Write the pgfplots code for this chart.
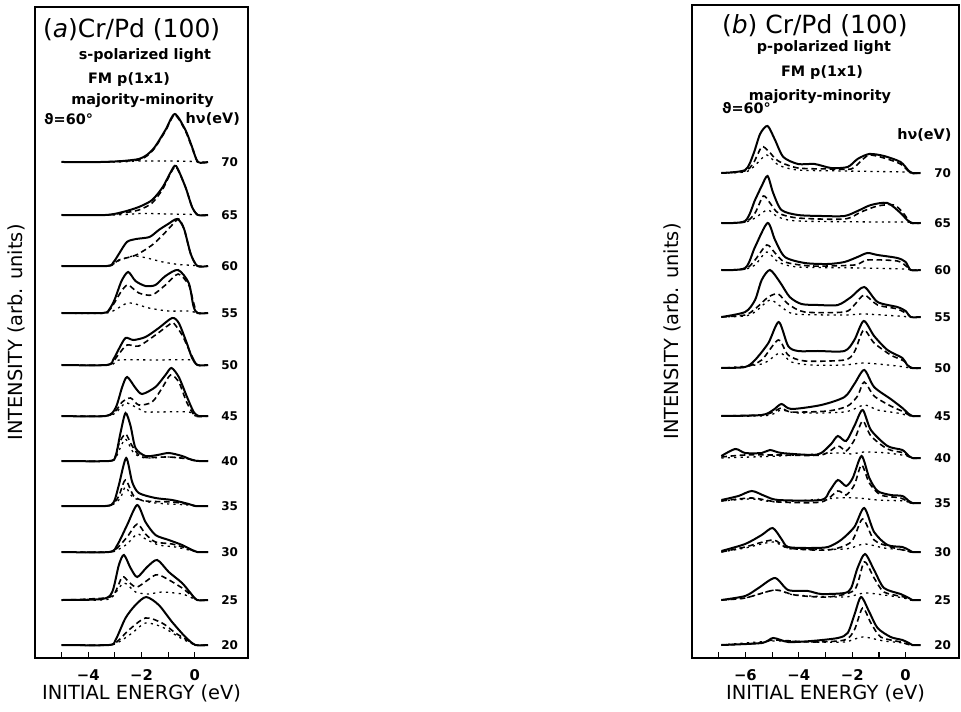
\documentclass[border=0pt]{standalone}
\usepackage{fontspec}
\setmainfont{DejaVu Sans}
\usepackage{pgfplots}
\pgfplotsset{compat=1.18}

\tikzset{
  sub/.style={font=\fontsize{7.2}{8}\selectfont\bfseries},
  hv/.style={font=\fontsize{6}{7}\selectfont\bfseries, anchor=center},
}
\pgfplotsset{
  sol/.style={black, line width=1pt, smooth, tension=0.45},
  das/.style={black, line width=0.8pt, dash pattern=on 2.8pt off 1.8pt, smooth, tension=0.45},
  dot/.style={black, line width=0.65pt, dash pattern=on 1.1pt off 2.1pt, smooth, tension=0.45},
  off/.style={y filter/.expression={y+#1}},
  panel/.style={
    scale only axis, anchor=south west, clip=false,
    ymin=0, ytick=\empty,
    axis line style={line width=0.75pt},
    tick align=inside, xtick pos=bottom, major tick length=3pt,
    tick style={black, line width=0.6pt},
    xticklabel style={font=\fontsize{7.4}{8}\selectfont\bfseries, anchor=center, yshift=-8.5pt},
    label style={font=\fontsize{9.7}{11}\selectfont},
    xlabel={INITIAL ENERGY (eV)},
    ylabel={INTENSITY (arb. units)},
    xlabel style={at={(axis description cs:0.5,0)}, anchor=center, yshift=-17.5pt},
  },
}

\begin{document}
\begin{tikzpicture}
\useasboundingbox (0,0) rectangle (480.5pt,355.5pt);

% ---------------- (a) s-polarized ----------------
\begin{axis}[panel, at={(17.5pt,26.5pt)}, width=106.5pt, height=325.5pt,
  xmin=-6, xmax=2, ymax=651,
  xtick={-5,-4,-3,-2,-1,0}, xticklabels={,−4,,−2,,0},
  ylabel style={at={(axis description cs:-0.014,0.5)}, anchor=south},
]
\node[anchor=west, font=\fontsize{12.5}{14}\selectfont] at (rel axis cs:0.005,0.965) {(\textit{a})Cr/Pd (100)};
\node[sub] at (rel axis cs:0.516,0.926) {s-polarized light};
\node[sub, anchor=west] at (rel axis cs:0.216,0.889) {FM p(1x1)};
\node[sub] at (rel axis cs:0.505,0.857) {majority-minority};
\node[sub, anchor=west] at (rel axis cs:0.01,0.828) {ϑ=60°};
\node[sub, anchor=east] at (rel axis cs:0.995,0.828) {hν(eV)};
\node[hv] at (axis cs:1.31,496) {70};
\node[hv] at (axis cs:1.31,443) {65};
\node[hv] at (axis cs:1.31,392) {60};
\node[hv] at (axis cs:1.31,345) {55};
\node[hv] at (axis cs:1.31,293) {50};
\node[hv] at (axis cs:1.31,242) {45};
\node[hv] at (axis cs:1.31,197) {40};
\node[hv] at (axis cs:1.31,152) {35};
\node[hv] at (axis cs:1.31,106) {30};
\node[hv] at (axis cs:1.31,58) {25};
\node[hv] at (axis cs:1.31,13) {20};

% 70 eV
\addplot[sol,off=496] coordinates {(-5,0)(-3.5,0)(-2.7,1)(-2.1,3)(-1.8,7)(-1.5,15)(-1.1,32)(-0.75,48)(-0.35,32)(-0.1,15)(0.12,0)(0.5,0)};
\addplot[das,off=496] coordinates {(-5,0)(-3.5,0)(-2.7,1)(-2.1,2)(-1.8,6)(-1.5,14)(-1.1,31)(-0.75,47)(-0.35,31)(-0.1,14)(0.12,0)(0.5,0)};
\addplot[dot,off=496] coordinates {(-5,0)(-3,0)(-2,1)(-1,1)(0,0.5)(0.12,0)(0.5,0)};
% 65 eV
\addplot[sol,off=443] coordinates {(-5,0)(-3.35,0)(-2.7,3)(-2.1,8)(-1.6,15)(-1.2,28)(-0.9,43)(-0.7,49)(-0.35,28)(-0.1,8)(0.12,0)(0.5,0)};
\addplot[das,off=443] coordinates {(-5,0)(-3.35,0)(-2.7,2)(-2.1,5)(-1.6,12)(-1.2,26)(-0.9,42)(-0.7,48)(-0.35,28)(-0.1,8)(0.12,0)(0.5,0)};
\addplot[dot,off=443] coordinates {(-5,0)(-3,0)(-2,1.5)(-1,1)(0,0.5)(0.12,0)(0.5,0)};
% 60 eV
\addplot[sol,off=392] coordinates {(-5,0)(-3.3,0)(-3.05,4)(-2.85,12)(-2.55,24)(-2.2,27)(-1.7,29)(-1.35,36)(-1.0,42)(-0.65,47)(-0.4,37)(-0.15,12)(0.1,0)(0.5,0)};
\addplot[das,off=392] coordinates {(-5,0)(-3.3,0)(-3.05,2)(-2.85,6)(-2.2,11)(-1.6,21)(-1.2,31)(-0.85,41)(-0.6,47)(-0.4,37)(-0.15,12)(0.1,0)(0.5,0)};
\addplot[dot,off=392] coordinates {(-5,0)(-3.3,0)(-2.8,6)(-2.3,10)(-1.8,8)(-1.2,4)(-0.6,1.5)(0,0.5)(0.1,0)(0.5,0)};
% 55 eV
\addplot[sol,off=345] coordinates {(-5,0)(-3.45,0)(-3.2,4)(-3.0,14)(-2.75,32)(-2.5,41)(-2.225,32)(-1.85,27)(-1.475,28)(-1.1,37)(-0.625,43)(-0.225,30)(-0.05,7)(0.1,0)(0.5,0)};
\addplot[das,off=345] coordinates {(-5,0)(-3.45,0)(-3.2,3)(-3.0,11)(-2.725,23)(-2.5,28)(-2.1,20)(-1.6,18)(-1.1,28)(-0.625,39)(-0.225,28)(-0.04,10)(0.1,0)(0.5,0)};
\addplot[dot,off=345] coordinates {(-5,0)(-3.3,0)(-2.5,10)(-1.725,5)(-1,2)(-0.2,2)(0.1,0)(0.5,0)};
% 50 eV
\addplot[sol,off=293] coordinates {(-5,0)(-3.3,0)(-3.05,6)(-2.85,16)(-2.6,27)(-2.3,25)(-1.85,28)(-1.35,37)(-0.85,47)(-0.6,42)(-0.3,22)(-0.1,7)(0.1,0)(0.5,0)};
\addplot[das,off=293] coordinates {(-5,0)(-3.3,0)(-3.05,4)(-2.85,11)(-2.54,20)(-2.1,19)(-1.475,30)(-0.975,40)(-0.8,42)(-0.475,30)(-0.16,12)(0.1,0)(0.5,0)};
\addplot[dot,off=293] coordinates {(-5,0)(-3.2,0)(-2.85,5)(-1.5,5)(-0.1,5)(0.05,0)(0.5,0)};
% 45 eV
\addplot[sol,off=242] coordinates {(-5,0)(-3.35,0)(-2.975,8)(-2.725,29)(-2.54,39)(-2.225,28)(-1.975,22)(-1.475,29)(-1.1,41)(-0.875,48)(-0.6,39)(-0.29,19)(-0.04,4)(0.15,0)(0.5,0)};
\addplot[das,off=242] coordinates {(-5,0)(-3.35,0)(-2.975,5)(-2.725,14)(-2.41,18)(-2.1,11)(-1.6,14)(-1.225,28)(-0.91,41)(-0.6,34)(-0.29,13)(0.025,0)(0.5,0)};
\addplot[dot,off=242] coordinates {(-5,0)(-3.35,0)(-2.975,3)(-2.6,13)(-2.225,9)(-1.85,4)(-1.475,4)(-0.225,4)(0.025,0)(0.5,0)};
% 40 eV
\addplot[sol,off=197] coordinates {(-5,0)(-3.225,0)(-2.975,5)(-2.79,28)(-2.6,48)(-2.41,35)(-2.225,13)(-1.85,5)(-1.4,6)(-0.975,8)(-0.475,5)(-0.1,1)(0.15,0)(0.5,0)};
\addplot[das,off=197] coordinates {(-5,0)(-3.225,0)(-2.975,4)(-2.85,17)(-2.6,27)(-2.35,15)(-1.975,4)(-0.975,4)(-0.225,2)(0.15,0)(0.5,0)};
\addplot[dot,off=197] coordinates {(-5,0)(-3.225,0)(-2.975,3)(-2.85,10)(-2.6,22)(-2.29,8)(-1.85,3)(-0.975,4)(-0.225,2)(0.15,0)(0.5,0)};
% 35 eV
\addplot[sol,off=152] coordinates {(-5,0)(-3.35,0)(-3.04,4)(-2.85,21)(-2.575,48)(-2.35,24)(-2.1,13)(-1.475,8)(-0.85,6)(-0.225,2)(0.025,0)(0.5,0)};
\addplot[das,off=152] coordinates {(-5,0)(-3.35,0)(-3.04,3)(-2.85,10)(-2.6,26)(-2.29,10)(-1.85,5)(-0.85,4)(-0.1,1)(0.025,0)(0.5,0)};
\addplot[dot,off=152] coordinates {(-5,0)(-3.35,0)(-3.04,2)(-2.79,8)(-2.6,19)(-2.29,8)(-1.475,3)(-0.225,1)(0.025,0)(0.5,0)};
% 30 eV
\addplot[sol,off=106] coordinates {(-5,0)(-3.225,0)(-2.91,7)(-2.54,27)(-2.16,47)(-1.85,30)(-1.475,17)(-0.975,12)(-0.475,7)(-0.1,2)(0.09,0)(0.5,0)};
\addplot[das,off=106] coordinates {(-5,0)(-3.225,0)(-2.91,4)(-2.54,15)(-2.16,28)(-1.85,18)(-1.475,10)(-0.85,8)(-0.225,3)(0.09,0)(0.5,0)};
\addplot[dot,off=106] coordinates {(-5,0)(-3.225,0)(-2.91,2)(-2.54,8)(-2.16,18)(-1.85,13)(-1.35,7)(-0.725,5)(-0.225,2)(0.09,0)(0.5,0)};
% 25 eV
\addplot[sol,off=58] coordinates {(-5,0)(-3.475,1)(-3.1,8)(-2.85,35)(-2.66,45)(-2.41,32)(-2.16,23)(-1.79,33)(-1.41,40)(-0.975,28)(-0.475,17)(-0.16,7)(0.09,0)(0.5,0)};
\addplot[das,off=58] coordinates {(-5,0)(-3.98,1)(-3.1,4)(-2.725,23)(-2.475,18)(-2.16,13)(-1.475,25)(-1.1,22)(-0.475,12)(-0.1,4)(0.09,0)(0.5,0)};
\addplot[dot,off=58] coordinates {(-5,0)(-3.475,0)(-3.1,3)(-2.66,17)(-2.225,8)(-1.725,6)(-1.225,8)(-0.475,6)(-0.1,2)(0.09,0)(0.5,0)};
% 20 eV
\addplot[sol,off=13] coordinates {(-5,0)(-3.225,0)(-2.975,5)(-2.6,27)(-2.225,40)(-1.825,48)(-1.35,40)(-0.85,23)(-0.35,8)(0.025,0)(0.5,0)};
\addplot[das,off=13] coordinates {(-5,0)(-3.225,0)(-2.85,5)(-2.475,15)(-1.85,27)(-1.225,22)(-0.725,12)(-0.225,4)(0.025,0)(0.5,0)};
\addplot[dot,off=13] coordinates {(-5,0)(-3.225,0)(-2.85,3)(-2.35,12)(-1.85,22)(-1.225,18)(-0.6,8)(-0.16,2)(0.025,0)(0.5,0)};
\end{axis}

% ---------------- (b) p-polarized ----------------
\begin{axis}[panel, at={(346pt,26.5pt)}, width=133.5pt, height=326.5pt,
  xmin=-8, xmax=2, ymax=653,
  xtick={-7,-6,-5,-4,-3,-2,-1,0}, xticklabels={,−6,,−4,,−2,,0},
  ylabel style={at={(axis description cs:-0.015,0.5)}, anchor=south},
]
\node[anchor=west, font=\fontsize{12.5}{14}\selectfont] at (rel axis cs:0.086,0.969) {(\textit{b}) Cr/Pd (100)};
\node[sub] at (rel axis cs:0.494,0.934) {p-polarized light};
\node[sub] at (rel axis cs:0.487,0.896) {FM p(1x1)};
\node[sub] at (rel axis cs:0.479,0.859) {majority-minority};
\node[sub, anchor=west] at (rel axis cs:0.086,0.842) {ϑ=60°};
\node[sub, anchor=east] at (rel axis cs:0.998,0.801) {hν(eV)};
\node[hv] at (axis cs:1.39,485) {70};
\node[hv] at (axis cs:1.39,435) {65};
\node[hv] at (axis cs:1.39,388) {60};
\node[hv] at (axis cs:1.39,341) {55};
\node[hv] at (axis cs:1.39,290) {50};
\node[hv] at (axis cs:1.39,242) {45};
\node[hv] at (axis cs:1.39,200) {40};
\node[hv] at (axis cs:1.39,155) {35};
\node[hv] at (axis cs:1.39,106) {30};
\node[hv] at (axis cs:1.39,58) {25};
\node[hv] at (axis cs:1.39,13) {20};

% 70 eV
\addplot[sol,off=485] coordinates {(-6.9,0)(-6.01,3)(-5.7,19)(-5.45,39)(-5.17,47)(-4.89,33)(-4.58,16)(-4.03,9)(-3.41,9)(-2.79,5)(-2.17,6)(-1.8,14)(-1.36,19)(-0.81,17)(-0.19,11)(0.12,2)(0.25,0)(0.56,0)};
\addplot[das,off=485] coordinates {(-6.9,0)(-6.01,2)(-5.7,10)(-5.39,26)(-5.14,22)(-4.77,12)(-4.03,5)(-2.79,4)(-2.04,4)(-1.67,12)(-1.36,18)(-0.81,15)(-0.19,9)(0.19,0)(0.56,0)};
\addplot[dot,off=485] coordinates {(-6.9,0)(-6.01,1)(-5.7,6)(-5.2,18)(-4.77,8)(-4.03,3)(-2.29,2)(-0.06,1)(0.19,0)(0.56,0)};
% 65 eV
\addplot[sol,off=435] coordinates {(-6.9,0)(-6.01,2)(-5.64,23)(-5.39,37)(-5.17,47)(-4.96,30)(-4.65,13)(-4.03,8)(-3.16,7)(-2.29,7)(-1.8,12)(-1.3,18)(-0.68,20)(-0.19,10)(0.06,3)(0.25,0)(0.56,0)};
\addplot[das,off=435] coordinates {(-6.9,0)(-6.01,1)(-5.64,10)(-5.33,27)(-5.08,20)(-4.77,10)(-4.03,5)(-2.29,4)(-1.67,11)(-1.05,17)(-0.43,18)(-0.06,9)(0.19,0)(0.56,0)};
\addplot[dot,off=435] coordinates {(-6.9,0)(-6.01,1)(-5.64,5)(-5.17,13)(-4.77,6)(-4.03,2)(-1.05,1)(0.06,1)(0.19,0)(0.56,0)};
% 60 eV
\addplot[sol,off=388] coordinates {(-6.9,0)(-6.01,2)(-5.64,23)(-5.17,47)(-4.89,30)(-4.52,13)(-3.78,7)(-2.91,6)(-2.29,8)(-1.8,13)(-1.43,17)(-1.05,15)(-0.31,12)(0,8)(0.19,0)(0.56,0)};
\addplot[das,off=388] coordinates {(-6.9,0)(-6.01,1)(-5.64,10)(-5.2,25)(-4.89,17)(-4.52,8)(-3.53,4)(-1.92,5)(-1.43,10)(-0.31,9)(0.06,3)(0.19,0)(0.56,0)};
\addplot[dot,off=388] coordinates {(-6.9,0)(-6.01,1)(-5.64,5)(-5.2,18)(-4.77,8)(-4.03,3)(-1.67,2)(-0.06,1)(0.19,0)(0.56,0)};
% 55 eV
\addplot[sol,off=341] coordinates {(-6.9,0)(-6.01,5)(-5.64,17)(-5.39,37)(-5.08,47)(-4.71,35)(-4.34,20)(-3.9,13)(-3.28,12)(-2.54,12)(-2.04,20)(-1.55,30)(-1.05,15)(-0.31,10)(0,6)(0.19,0)(0.56,0)};
\addplot[das,off=341] coordinates {(-6.9,0)(-6.01,2)(-5.64,8)(-5.14,20)(-4.77,23)(-4.4,13)(-3.78,5)(-2.29,5)(-1.92,12)(-1.55,22)(-1.05,12)(-0.31,8)(0.12,2)(0.19,0)(0.56,0)};
\addplot[dot,off=341] coordinates {(-6.9,0)(-6.01,1)(-5.64,5)(-5.08,17)(-4.65,10)(-4.15,3)(-2.29,2)(-1.55,3)(-0.31,1)(0.19,0)(0.56,0)};
% 50 eV
\addplot[sol,off=290] coordinates {(-6.9,0)(-6.01,1)(-5.64,8)(-5.14,25)(-4.75,46)(-4.4,22)(-4.03,17)(-3.28,17)(-2.29,17)(-1.92,28)(-1.57,47)(-1.18,32)(-0.68,18)(-0.12,10)(0.06,3)(0.25,0)(0.56,0)};
\addplot[das,off=290] coordinates {(-6.9,0)(-6.01,1)(-5.39,8)(-4.77,28)(-4.4,13)(-3.78,7)(-2.29,8)(-1.92,16)(-1.57,38)(-1.18,25)(-0.56,13)(-0.06,7)(0.19,0)(0.56,0)};
\addplot[dot,off=290] coordinates {(-6.9,0)(-5.39,4)(-4.71,15)(-4.28,6)(-3.53,3)(-2.29,3)(-1.55,5)(-0.31,2)(0.19,0)(0.56,0)};
% 45 eV
\addplot[sol,off=242] coordinates {(-6.9,0)(-5.39,1)(-4.96,6)(-4.65,12)(-4.28,7)(-3.16,11)(-2.29,19)(-1.92,32)(-1.55,46)(-1.18,29)(-0.56,17)(-0.12,8)(0.12,2)(0.25,0)(0.56,0)};
\addplot[das,off=242] coordinates {(-6.9,0)(-5.39,1)(-4.96,4)(-4.65,8)(-4.28,4)(-2.91,5)(-2.17,10)(-1.8,20)(-1.55,34)(-1.18,20)(-0.56,10)(-0.06,4)(0.19,0)(0.56,0)};
\addplot[dot,off=242] coordinates {(-6.9,0)(-5.39,0)(-4.96,2)(-4.65,6)(-4.03,3)(-2.29,4)(-1.55,11)(-1.05,6)(-0.31,3)(0.19,0)(0.56,0)};
% 40 eV
\addplot[sol,off=200] coordinates {(-6.9,2)(-6.38,9)(-6.01,5)(-5.39,5)(-5.08,8)(-4.65,5)(-3.53,3)(-3.16,5)(-2.79,14)(-2.54,22)(-2.23,17)(-1.92,32)(-1.61,48)(-1.3,28)(-0.68,12)(-0.12,8)(0.12,2)(0.25,0)(0.56,0)};
\addplot[das,off=200] coordinates {(-6.9,1)(-6.01,3)(-4.77,3)(-3.16,3)(-2.54,12)(-2.23,7)(-1.92,18)(-1.61,37)(-1.3,22)(-0.68,9)(-0.06,5)(0.19,0)(0.56,0)};
\addplot[dot,off=200] coordinates {(-6.9,0)(-4.77,2)(-2.54,5)(-2.04,4)(-1.55,6)(-0.68,5)(0.06,2)(0.19,0)(0.56,0)};
% 35 eV
\addplot[sol,off=155] coordinates {(-6.9,3)(-6.26,7)(-5.76,12)(-5.27,7)(-4.77,3)(-3.16,3)(-2.85,12)(-2.54,23)(-2.23,17)(-1.98,25)(-1.65,47)(-1.36,25)(-1.05,12)(-0.56,8)(-0.12,7)(0.12,2)(0.25,0)(0.56,0)};
\addplot[das,off=155] coordinates {(-6.9,2)(-5.76,5)(-4.77,1)(-3.16,1)(-2.54,12)(-2.23,8)(-1.92,18)(-1.65,38)(-1.36,20)(-0.93,8)(-0.19,5)(0.19,0)(0.56,0)};
\addplot[dot,off=155] coordinates {(-6.9,2)(-5.76,4)(-4.77,1)(-2.54,5)(-1.8,5)(-1.05,3)(-0.06,2)(0.19,0)(0.56,0)};
% 30 eV
\addplot[sol,off=106] coordinates {(-6.9,1)(-6.01,8)(-5.39,17)(-4.98,24)(-4.65,13)(-4.4,5)(-3.53,4)(-2.91,5)(-2.42,12)(-1.92,25)(-1.55,44)(-1.18,20)(-0.68,7)(-0.12,5)(0.12,2)(0.25,0)(0.56,0)};
\addplot[das,off=106] coordinates {(-6.9,0)(-6.01,5)(-4.96,12)(-4.4,4)(-2.91,2)(-2.04,10)(-1.61,33)(-1.18,12)(-0.56,5)(0.06,1)(0.19,0)(0.56,0)};
\addplot[dot,off=106] coordinates {(-6.9,0)(-6.01,4)(-4.96,10)(-4.28,3)(-2.29,3)(-1.55,8)(-0.81,4)(-0.06,2)(0.19,0)(0.56,0)};
% 25 eV
\addplot[sol,off=58] coordinates {(-6.9,0)(-6.01,4)(-5.51,12)(-4.89,22)(-4.4,10)(-3.66,9)(-3.16,6)(-2.29,7)(-2.04,12)(-1.8,32)(-1.52,46)(-1.18,30)(-0.81,12)(-0.19,6)(0.12,2)(0.25,0)(0.56,0)};
\addplot[das,off=58] coordinates {(-6.9,0)(-6.01,2)(-4.89,10)(-4.15,5)(-2.91,3)(-1.92,10)(-1.55,38)(-1.18,22)(-0.81,8)(-0.06,3)(0.19,0)(0.56,0)};
\addplot[dot,off=58] coordinates {(-6.9,0)(-6.01,2)(-4.89,10)(-4.15,5)(-2.29,3)(-1.55,7)(-0.81,5)(-0.06,2)(0.19,0)(0.56,0)};
% 20 eV
\addplot[sol,off=13] coordinates {(-6.9,0)(-5.39,2)(-4.96,7)(-4.4,3)(-3.53,4)(-2.54,7)(-2.17,12)(-1.92,30)(-1.67,48)(-1.36,33)(-1.05,17)(-0.56,8)(-0.12,5)(0.12,2)(0.25,0)(0.56,0)};
\addplot[das,off=13] coordinates {(-6.9,0)(-5.39,2)(-4.96,5)(-3.53,3)(-2.29,5)(-1.92,15)(-1.61,37)(-1.3,22)(-0.93,8)(-0.19,3)(0.19,0)(0.56,0)};
\addplot[dot,off=13] coordinates {(-6.9,0)(-4.96,4)(-3.53,3)(-2.29,3)(-1.61,8)(-0.81,4)(-0.06,2)(0.19,0)(0.56,0)};
\end{axis}
\end{tikzpicture}
\end{document}
